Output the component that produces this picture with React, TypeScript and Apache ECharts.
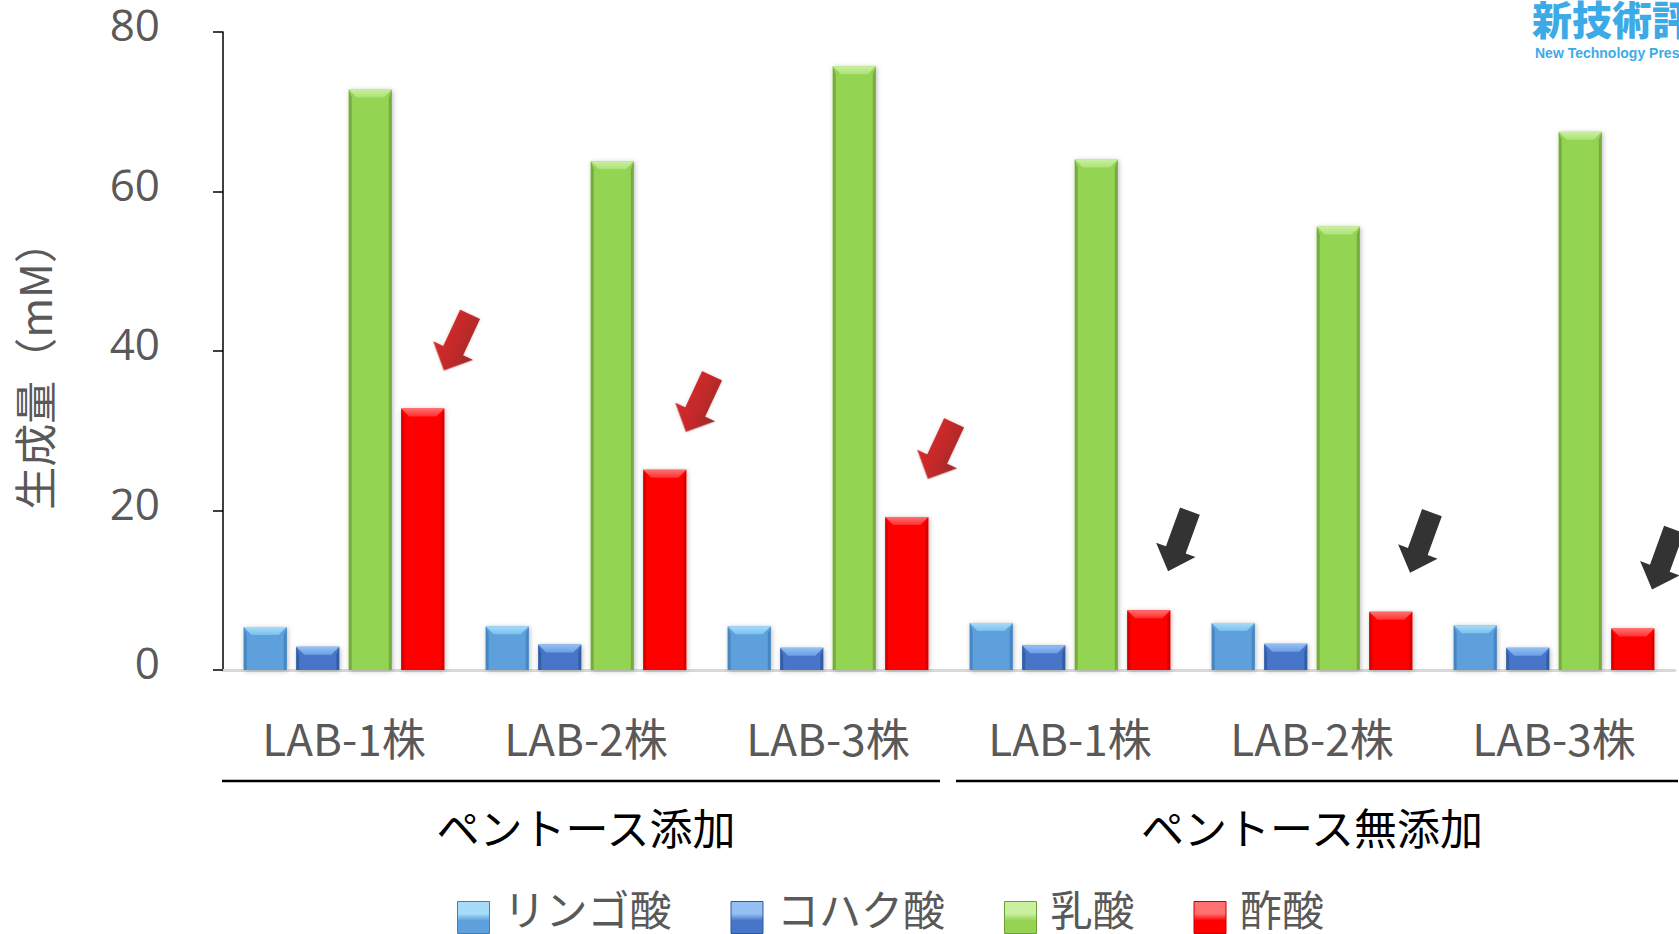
import React, { useEffect, useRef } from "react";
import * as echarts from "echarts";

// Strain categories along the x axis, grouped by culture condition
const strains = ["LAB-1株", "LAB-2株", "LAB-3株", "LAB-1株", "LAB-2株", "LAB-3株"];
const conditions = ["ペントース添加", "ペントース無添加"];
const acidNames = ["リンゴ酸", "コハク酸", "乳酸", "酢酸"];

// Production amounts (mM)
const malic = [5.4, 5.5, 5.5, 5.9, 5.9, 5.6];
const succinic = [2.9, 3.2, 2.8, 3.1, 3.3, 2.8];
const lactic = [72.8, 63.8, 75.7, 64.0, 55.6, 67.5];
const acetic = [32.8, 25.1, 19.2, 7.5, 7.3, 5.2];

const yMin = 0;
const yMax = 80;
const yStep = 20;

const CJK = '"Noto Sans CJK JP", "Noto Sans", sans-serif';

type Palette = { face: string; top: string; topEnd: string; edge: string };

const palettes: Palette[] = [
  { face: "#5DA0DC", top: "#A6DCFA", topEnd: "#7CC0EE", edge: "#3F7FB8" },
  { face: "#4676C8", top: "#94C0F4", topEnd: "#6C9EE6", edge: "#2E569C" },
  { face: "#94D452", top: "#C8F09E", topEnd: "#ACE277", edge: "#6E9E3A" },
  { face: "#FF0000", top: "#FF7070", topEnd: "#FF3030", edge: "#C80000" },
];

const seriesValues = [malic, succinic, lactic, acetic];

// Bevelled bar drawn through the cartesian scales of the grid
const makeRenderItem = (slot: number, pal: Palette) => (params: any, api: any) => {
  const idx = api.value(0);
  const val = api.value(1);
  const base = api.coord([idx, 0]);
  const topPt = api.coord([idx, val]);
  const band = api.size([1, 0])[0];
  const w = band * 0.178;
  const gap = band * 0.039;
  const cx = base[0] + (slot - 1.5) * (w + gap);
  const x0 = cx - w / 2;
  const x1 = cx + w / 2;
  const y0 = topPt[1];
  const y1 = base[1];
  const b = Math.min(8, (y1 - y0) / 2);
  const s = 3;
  return {
    type: "group",
    children: [
      {
        type: "rect",
        shape: { x: x0, y: y0, width: w, height: y1 - y0 },
        style: {
          fill: pal.face,
          shadowBlur: 5,
          shadowColor: "rgba(0,0,0,0.28)",
          shadowOffsetX: 1,
          shadowOffsetY: 1,
        },
      },
      {
        type: "polygon",
        shape: { points: [[x0, y0], [x0 + s, y0 + b], [x0 + s, y1], [x0, y1]] },
        style: { fill: pal.edge, opacity: 0.75 },
      },
      {
        type: "polygon",
        shape: { points: [[x1, y0], [x1 - s, y0 + b], [x1 - s, y1], [x1, y1]] },
        style: { fill: pal.edge, opacity: 0.75 },
      },
      {
        type: "polygon",
        shape: { points: [[x0, y0], [x1, y0], [x1 - b, y0 + b], [x0 + b, y0 + b]] },
        style: {
          fill: new echarts.graphic.LinearGradient(0, 0, 0, 1, [
            { offset: 0, color: pal.top },
            { offset: 1, color: pal.topEnd },
          ]),
        },
      },
    ],
  };
};

// Downward block arrow (shaft + head), rotated per series
const arrowPath = "path://M11,0 L33,0 L33,40 L44,40 L22,62 L0,40 L11,40 Z";

// Legend swatch: a 32x32 square sitting below an empty 20-unit band,
// so that the label centre lies above the swatch centre
const legendIcon = "path://M0,0 M0,20 L32,20 L32,52 L0,52 Z";

const App: React.FC = () => {
  const ref = useRef<HTMLDivElement>(null);

  useEffect(() => {
    if (!ref.current) return;
    const chart = echarts.init(ref.current, undefined, { renderer: "svg" });

    const barSeries = acidNames.map((name, s) => ({
      name,
      type: "custom",
      coordinateSystem: "cartesian2d",
      xAxisIndex: 0,
      yAxisIndex: 0,
      itemStyle: { color: palettes[s].face },
      encode: { x: 0, y: 1 },
      data: seriesValues[s].map((v, i) => [i, v]),
      renderItem: makeRenderItem(s, palettes[s]),
      z: 3,
    }));

    const withPentose = acetic.map((v, i) => [i, v]).filter((d) => d[0] < 3);
    const withoutPentose = acetic.map((v, i) => [i, v]).filter((d) => d[0] >= 3);

    const arrowSeries = [
      {
        name: "arrow-red",
        type: "scatter",
        data: withPentose,
        symbol: arrowPath,
        symbolSize: [44, 62],
        symbolRotate: -25,
        symbolOffset: [113, -66],
        silent: true,
        z: 5,
        itemStyle: {
          color: new echarts.graphic.LinearGradient(0, 0, 1, 0, [
            { offset: 0, color: "#D40000" },
            { offset: 0.55, color: "#B80000" },
            { offset: 1, color: "#8A0000" },
          ]),
          shadowBlur: 3,
          shadowColor: "rgba(0,0,0,0.25)",
        },
      },
      {
        name: "arrow-black",
        type: "scatter",
        data: withoutPentose,
        symbol: arrowPath,
        symbolSize: [42, 64],
        symbolRotate: -20,
        symbolOffset: [109, -69],
        silent: true,
        z: 5,
        itemStyle: { color: "#000000" },
      },
    ];

    chart.setOption({
      animation: false,
      backgroundColor: "#ffffff",
      grid: { left: 223, right: 4, top: 32, bottom: 264, containLabel: false },
      legend: {
        left: 457,
        top: 881,
        padding: 0,
        icon: legendIcon,
        itemWidth: 32,
        itemHeight: 52,
        itemGap: 59,
        selectedMode: false,
        textStyle: { fontSize: 42, color: "#595959", fontFamily: CJK, padding: [0, 0, 0, 9] },
        data: acidNames.map((name, s) => ({
          name,
          itemStyle: {
            color: new echarts.graphic.LinearGradient(0, 0, 0, 1, [
              { offset: 0.38, color: palettes[s].top },
              { offset: 0.6, color: palettes[s].face },
              { offset: 1, color: palettes[s].face },
            ]),
            borderColor: palettes[s].edge,
            borderWidth: 1,
          },
        })),
      },
      xAxis: [
        {
          type: "category",
          data: strains,
          position: "bottom",
          axisLine: { show: true, lineStyle: { color: "#D9D9D9", width: 3 } },
          axisTick: { show: false },
          axisLabel: { fontSize: 44, color: "#595959", fontFamily: CJK, margin: 45 },
          splitLine: { show: false },
        },
        {
          type: "category",
          data: conditions,
          position: "bottom",
          axisLine: { show: false, onZero: false },
          axisTick: { show: false },
          axisLabel: { fontSize: 43, color: "#000000", fontFamily: CJK, margin: 134 },
          splitLine: { show: false },
        },
      ],
      yAxis: {
        type: "value",
        min: yMin,
        max: yMax,
        interval: yStep,
        name: "生成量（mM）",
        nameLocation: "middle",
        nameRotate: 90,
        nameGap: 169,
        nameTextStyle: { fontSize: 43, color: "#595959", fontFamily: CJK, padding: [0, 28, 0, 0] },
        axisLine: { show: true, lineStyle: { color: "#000000", width: 1.5 } },
        axisTick: { show: true, inside: false, length: 10, lineStyle: { color: "#000000", width: 1.5 } },
        axisLabel: {
          fontSize: 44,
          color: "#595959",
          fontFamily: '"Open Sans", "DejaVu Sans", sans-serif',
          margin: 63,
          verticalAlign: "bottom",
          lineHeight: 16,
        },
        splitLine: { show: false },
      },
      graphic: [
        {
          type: "line",
          shape: { x1: 222, y1: 781, x2: 940, y2: 781 },
          style: { stroke: "#000000", lineWidth: 2.5 },
        },
        {
          type: "line",
          shape: { x1: 956, y1: 781, x2: 1678, y2: 781 },
          style: { stroke: "#000000", lineWidth: 2.5 },
        },
        {
          type: "text",
          x: 1532,
          y: 38,
          style: {
            text: "新技術評論",
            fill: "#3DAAE8",
            font: `900 40px ${CJK}`,
            verticalAlign: "bottom",
          },
        },
        {
          type: "text",
          x: 1535,
          y: 46,
          style: {
            text: "New Technology Press",
            fill: "#3DAAE8",
            font: 'bold 14px "Liberation Sans", Arial, sans-serif',
            verticalAlign: "top",
          },
        },
      ],
      series: [...barSeries, ...arrowSeries],
    });

    return () => chart.dispose();
  }, []);

  return (
    <div
      ref={ref}
      style={{ position: "fixed", left: 0, top: 0, width: 1679, height: 934, background: "#fff" }}
    />
  );
};

export default App;
